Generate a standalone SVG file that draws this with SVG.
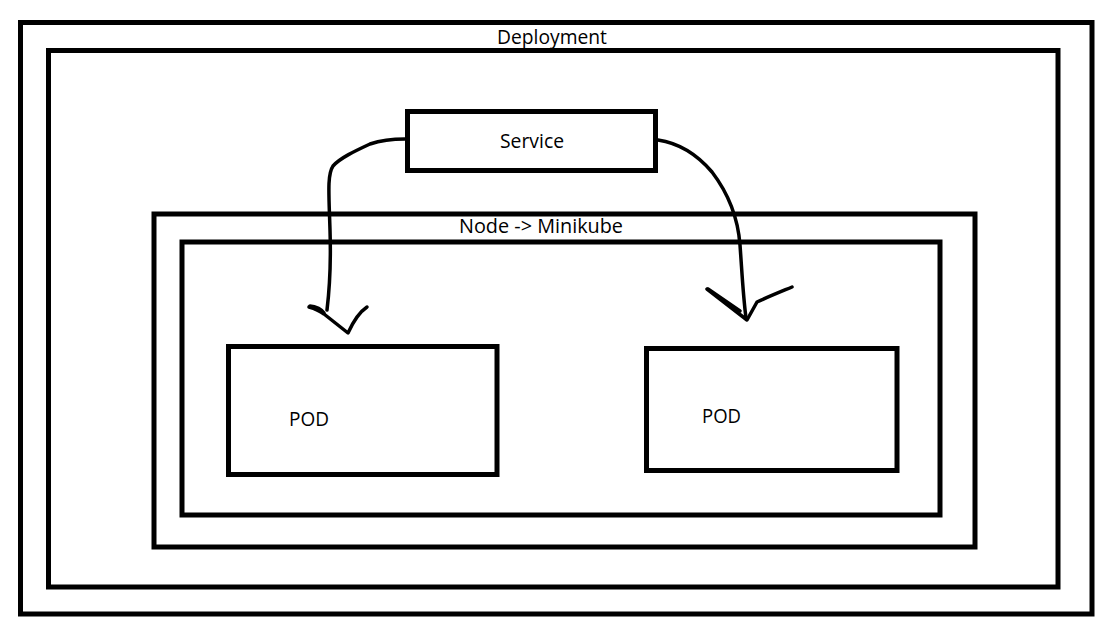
<svg xmlns="http://www.w3.org/2000/svg" width="1108" height="627" viewBox="0 0 1108 627">
  <style>
    .box { fill: none; stroke: #000; stroke-width: 5; }
    .lbl { font-family: "Open Sans", "Noto Sans", "Liberation Sans", sans-serif; font-size: 19.5px; fill: #000; }
    .wire { fill: none; stroke: #000; stroke-width: 3.5; stroke-linecap: round; stroke-linejoin: round; }
  </style>
  <rect width="1108" height="627" fill="#fff"/>

  <g id="deployment">
    <rect class="box" x="20.5" y="22.5" width="1071.5" height="591.5"/>
    <rect class="box" x="48.5" y="50.5" width="1009.5" height="536.5"/>
    <text class="lbl" x="497" y="44" textLength="110" lengthAdjust="spacingAndGlyphs">Deployment</text>
  </g>

  <g id="service">
    <rect class="box" x="407.5" y="111.5" width="248" height="59"/>
    <text class="lbl" x="500" y="148" textLength="64" lengthAdjust="spacingAndGlyphs">Service</text>
  </g>

  <g id="node-minikube">
    <rect class="box" x="154" y="214" width="821" height="333"/>
    <rect class="box" x="182" y="242" width="758" height="273"/>
    <text class="lbl" x="459" y="233" textLength="164" lengthAdjust="spacingAndGlyphs">Node -&gt; Minikube</text>
  </g>

  <g id="pod-1">
    <rect class="box" x="228.5" y="346.5" width="268.5" height="128"/>
    <text class="lbl" x="289" y="426" textLength="40" lengthAdjust="spacingAndGlyphs">POD</text>
  </g>

  <g id="pod-2">
    <rect class="box" x="646.5" y="348.5" width="250.5" height="122"/>
    <text class="lbl" x="702" y="423" textLength="39" lengthAdjust="spacingAndGlyphs">POD</text>
  </g>

  <g id="connectors">
    <!-- service to left pod -->
    <path class="wire" d="M405 139 C392 139 382 140 370 144 C355 151 340 158 333 166 C327 175 329 195 330 230 C331 260 330 285 327 310"/>
    <path class="wire" d="M309 307 C316 309 320 311 324 314 L348 333 C353 322 358 313 367 307"/>
    <path class="wire" d="M310 306 C316 306 322 310 324 313" stroke-width="6"/>
    <!-- service to right pod -->
    <path class="wire" d="M658 140 C678 143 695 152 712 172 C728 193 738 218 740 245 C742 272 743 295 746 318"/>
    <path class="wire" d="M707 289 L747 320 L757 302 C770 296 780 292 792 287"/>
    <path class="wire" d="M708 289 L740 311" stroke-width="6"/>
  </g>
</svg>
